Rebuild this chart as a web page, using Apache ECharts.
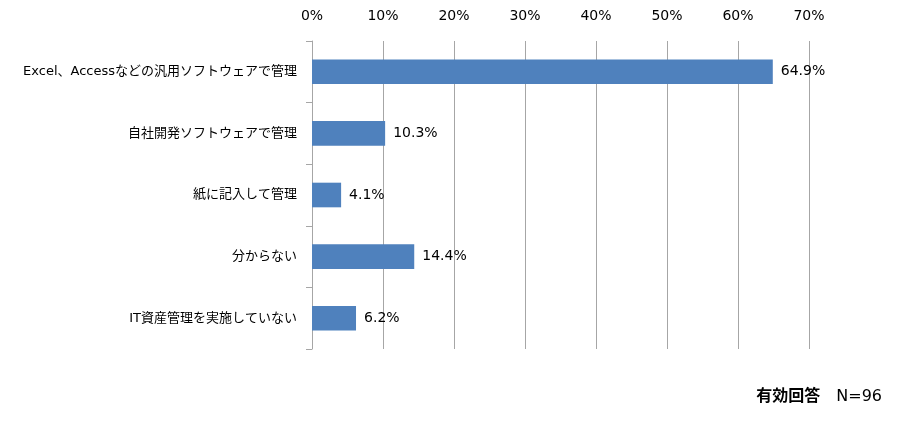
<!DOCTYPE html>
<html>
<head>
<meta charset="utf-8">
<script src="https://cdn.jsdelivr.net/npm/echarts@6/dist/echarts.min.js"></script>
<style>
  html, body { margin: 0; padding: 0; background: #fff; }
  #chart { width: 900px; height: 426px; }
</style>
</head>
<body>
<div id="chart"></div>
<script>
// 回答項目（上から順）
const categories = [
  'Excel、Accessなどの汎用ソフトウェアで管理',
  '自社開発ソフトウェアで管理',
  '紙に記入して管理',
  '分からない',
  'IT資産管理を実施していない'
];
// 割合（%）
const values = [64.9, 10.3, 4.1, 14.4, 6.2];
const note = '有効回答';
const sampleText = 'N=96';

const chart = echarts.init(document.getElementById('chart'));

const font = '"DejaVu Sans", "Noto Sans CJK JP", sans-serif';

chart.setOption({
  animation: false,
  grid: { left: 312, right: 91, top: 41, bottom: 77, containLabel: false },
  xAxis: {
    type: 'value',
    position: 'top',
    min: 0,
    max: 70,
    interval: 10,
    axisLine: { show: false },
    axisTick: { show: false },
    axisLabel: {
      formatter: '{value}%',
      color: '#000',
      fontSize: 14,
      fontFamily: font,
      margin: 18
    },
    splitLine: { lineStyle: { color: '#a6a6a6', width: 1 } }
  },
  yAxis: {
    type: 'category',
    inverse: true,
    data: categories,
    axisLine: { show: true, lineStyle: { color: '#a6a6a6' } },
    axisTick: { show: true, length: 6, lineStyle: { color: '#a6a6a6' } },
    axisLabel: {
      color: '#000',
      fontSize: 13,
      fontFamily: font,
      margin: 15
    }
  },
  series: [{
    type: 'bar',
    data: values,
    barCategoryGap: '60%',
    itemStyle: { color: '#4f81bd' },
    label: {
      show: true,
      position: 'right',
      distance: 8,
      formatter: p => p.value.toFixed(1) + '%',
      color: '#000',
      fontSize: 14,
      fontFamily: font
    }
  }],
  graphic: [{
    type: 'text',
    right: 18,
    top: 389,
    style: {
      text: '{b|' + note + '}　' + sampleText,
      rich: {
        b: { fontWeight: 'bold', fontSize: 16, fontFamily: font, fill: '#000' }
      },
      fontSize: 16,
      fontFamily: font,
      fill: '#000'
    }
  }]
});
</script>
</body>
</html>
